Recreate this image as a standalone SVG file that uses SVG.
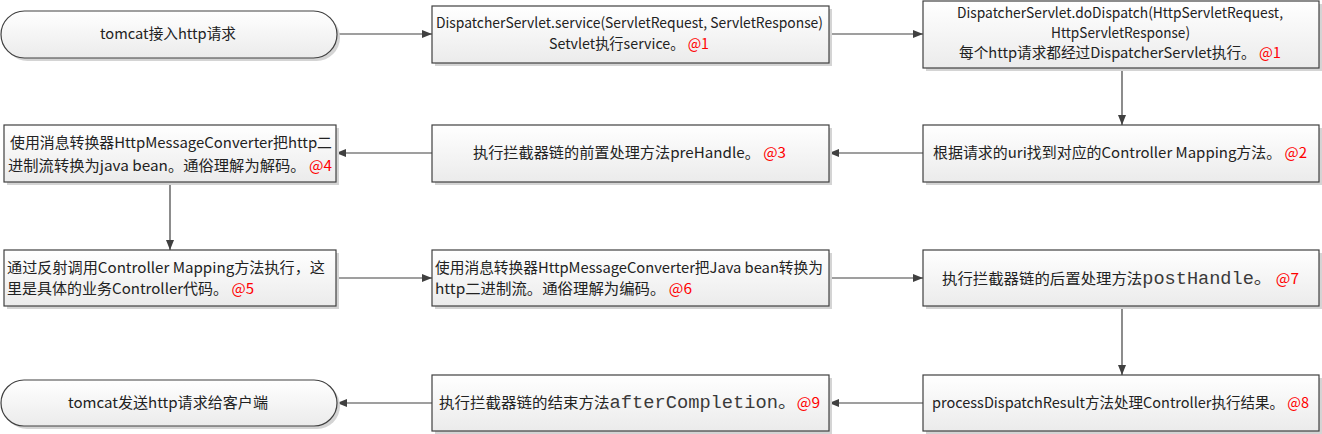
<svg xmlns="http://www.w3.org/2000/svg" width="1322" height="434" viewBox="0 0 1322 434">
<defs>
<linearGradient id="g" x1="0" y1="0" x2="0" y2="1">
<stop offset="0" stop-color="#ffffff"/>
<stop offset="1" stop-color="#ebebeb"/>
</linearGradient>
<marker id="arr" markerWidth="10" markerHeight="8" refX="10" refY="4" orient="auto" markerUnits="userSpaceOnUse">
<path d="M0,0 L10,4 L0,8 Z" fill="#404040"/>
</marker>
</defs>
<style>
.box{fill:url(#g);stroke:#404040;stroke-width:1.2}
.sh{fill:#d4d4d4}
.t{font-family:"Noto Sans CJK SC","Liberation Sans",sans-serif;font-size:14.5px;fill:#222222}
.m{font-family:"Liberation Mono","Noto Sans CJK SC",monospace;font-size:17.5px;fill:#3a3a3a}
.r{fill:#ff0000}
.c{text-anchor:middle}
.ln{stroke:#404040;stroke-width:1.2;fill:none;marker-end:url(#arr)}
</style>
<g id="connectors">
<line class="ln" x1="337" y1="34" x2="432" y2="34"/>
<line class="ln" x1="829" y1="34" x2="923" y2="34"/>
<line class="ln" x1="1122" y1="68" x2="1122" y2="125"/>
<line class="ln" x1="923" y1="153" x2="829" y2="153"/>
<line class="ln" x1="432" y1="153" x2="336" y2="153"/>
<line class="ln" x1="170" y1="182" x2="170" y2="250"/>
<line class="ln" x1="336" y1="278" x2="432" y2="278"/>
<line class="ln" x1="829" y1="278" x2="923" y2="278"/>
<line class="ln" x1="1122" y1="306" x2="1122" y2="375"/>
<line class="ln" x1="923" y1="403" x2="829" y2="403"/>
<line class="ln" x1="432" y1="403" x2="337" y2="403"/>
</g>
<g id="n1">
<rect class="sh" x="4" y="14" width="336" height="47" rx="23.5"/>
<rect class="box" x="1" y="11" width="336" height="47" rx="23.5"/>
<text class="t c" x="168" y="39" textLength="136" lengthAdjust="spacingAndGlyphs">tomcat接入http请求</text>
</g>
<g id="n2">
<rect class="sh" x="435" y="9" width="397" height="57"/>
<rect class="box" x="432" y="6" width="397" height="57"/>
<text class="t c" x="629.5" y="28" textLength="387" lengthAdjust="spacingAndGlyphs">DispatcherServlet.service(ServletRequest, ServletResponse)</text>
<text class="t c" x="629" y="49" textLength="160" lengthAdjust="spacingAndGlyphs">Setvlet执行service。 <tspan class="r">@1</tspan></text>
</g>
<g id="n3">
<rect class="sh" x="926" y="4" width="396" height="67"/>
<rect class="box" x="923" y="1" width="396" height="67"/>
<text class="t c" x="1120" y="18" textLength="326" lengthAdjust="spacingAndGlyphs">DispatcherServlet.doDispatch(HttpServletRequest,</text>
<text class="t c" x="1120.5" y="38" textLength="139" lengthAdjust="spacingAndGlyphs">HttpServletResponse)</text>
<text class="t c" x="1120" y="58" textLength="322" lengthAdjust="spacingAndGlyphs">每个http请求都经过DispatcherServlet执行。 <tspan class="r">@1</tspan></text>
</g>
<g id="n4">
<rect class="sh" x="7" y="128" width="332" height="57"/>
<rect class="box" x="4" y="125" width="332" height="57"/>
<text class="t" x="10" y="148" textLength="322" lengthAdjust="spacingAndGlyphs">使用消息转换器HttpMessageConverter把http二</text>
<text class="t" x="8" y="171" textLength="324" lengthAdjust="spacingAndGlyphs">进制流转换为java bean。通俗理解为解码。 <tspan class="r">@4</tspan></text>
</g>
<g id="n5">
<rect class="sh" x="435" y="128" width="397" height="57"/>
<rect class="box" x="432" y="125" width="397" height="57"/>
<text class="t c" x="629.5" y="158" textLength="313" lengthAdjust="spacingAndGlyphs">执行拦截器链的前置处理方法preHandle。 <tspan class="r">@3</tspan></text>
</g>
<g id="n6">
<rect class="sh" x="926" y="128" width="396" height="57"/>
<rect class="box" x="923" y="125" width="396" height="57"/>
<text class="t c" x="1120" y="158" textLength="374" lengthAdjust="spacingAndGlyphs">根据请求的uri找到对应的Controller Mapping方法。 <tspan class="r">@2</tspan></text>
</g>
<g id="n7">
<rect class="sh" x="7" y="253" width="332" height="56"/>
<rect class="box" x="4" y="250" width="332" height="56"/>
<text class="t" x="7" y="273" textLength="318" lengthAdjust="spacingAndGlyphs">通过反射调用Controller Mapping方法执行，这</text>
<text class="t" x="7" y="294" textLength="247" lengthAdjust="spacingAndGlyphs">里是具体的业务Controller代码。 <tspan class="r">@5</tspan></text>
</g>
<g id="n8">
<rect class="sh" x="435" y="253" width="397" height="56"/>
<rect class="box" x="432" y="250" width="397" height="56"/>
<text class="t" x="435" y="273" textLength="388" lengthAdjust="spacingAndGlyphs">使用消息转换器HttpMessageConverter把Java bean转换为</text>
<text class="t" x="435" y="294" textLength="257" lengthAdjust="spacingAndGlyphs">http二进制流。通俗理解为编码。 <tspan class="r">@6</tspan></text>
</g>
<g id="n9">
<rect class="sh" x="926" y="253" width="396" height="56"/>
<rect class="box" x="923" y="250" width="396" height="56"/>
<text class="t c" x="1120.5" y="284" textLength="357" lengthAdjust="spacingAndGlyphs">执行拦截器链的后置处理方法<tspan class="m">postHandle。</tspan> <tspan class="r">@7</tspan></text>
</g>
<g id="n10">
<rect class="sh" x="926" y="378" width="396" height="56"/>
<rect class="box" x="923" y="375" width="396" height="56"/>
<text class="t c" x="1120.5" y="408" textLength="377" lengthAdjust="spacingAndGlyphs">processDispatchResult方法处理Controller执行结果。 <tspan class="r">@8</tspan></text>
</g>
<g id="n11">
<rect class="sh" x="435" y="378" width="397" height="56"/>
<rect class="box" x="432" y="375" width="397" height="56"/>
<text class="t c" x="629.5" y="408" textLength="381" lengthAdjust="spacingAndGlyphs">执行拦截器链的结束方法<tspan class="m">afterCompletion。</tspan><tspan class="r">@9</tspan></text>
</g>
<g id="n12">
<rect class="sh" x="4" y="383" width="336" height="46" rx="23"/>
<rect class="box" x="1" y="380" width="336" height="46" rx="23"/>
<text class="t c" x="168" y="408" textLength="200" lengthAdjust="spacingAndGlyphs">tomcat发送http请求给客户端</text>
</g>
</svg>
